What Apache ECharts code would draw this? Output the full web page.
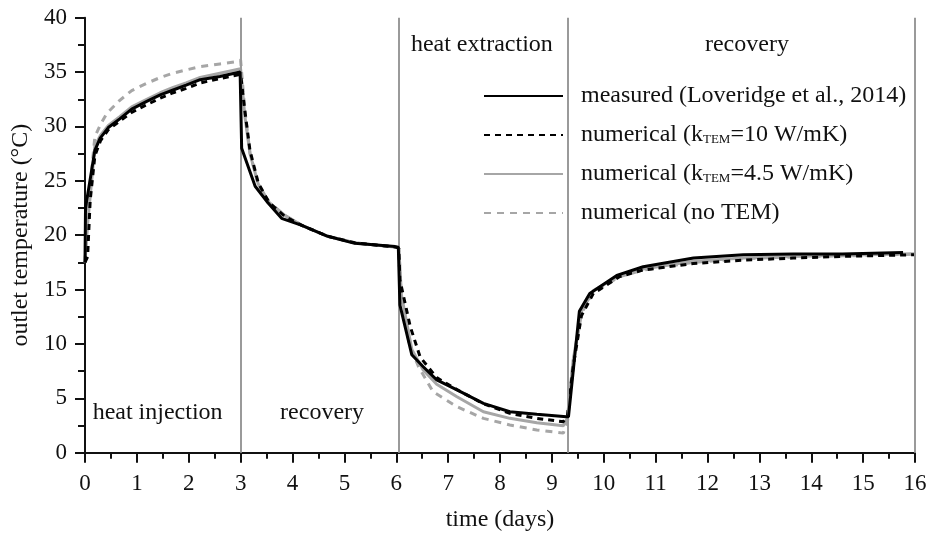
<!DOCTYPE html>
<html>
<head>
<meta charset="utf-8">
<script src="https://cdn.jsdelivr.net/npm/echarts@6/dist/echarts.min.js"></script>
<style>
  html, body { margin: 0; padding: 0; background: #fff; }
  #chart { width: 930px; height: 534px; }
</style>
</head>
<body>
<div id="chart"></div>
<script>
// Outlet temperature of the energy pile during the thermal response test
const FONT = 'Liberation Serif';

// measured (Loveridge et al., 2014)
const measuredTime = [0, 0.01, 0.19, 0.29, 0.45, 0.67, 0.9, 1.19, 1.45, 1.7, 1.95, 2.22, 2.6, 2.99,
  3.02, 3.28, 3.53, 3.79, 4.18, 4.68, 5.2, 5.98, 6.04, 6.07, 6.3, 6.52, 6.78, 7.17, 7.68, 8.19, 8.71,
  9.28, 9.32, 9.53, 9.73, 10.25, 10.76, 11.73, 12.69, 13.65, 14.6, 15.77];
const measuredTemp = [17.5, 22.5, 27.8, 28.9, 29.9, 30.7, 31.6, 32.3, 32.9, 33.35, 33.8, 34.3, 34.6, 35.0,
  28.0, 24.5, 22.95, 21.55, 20.9, 19.9, 19.25, 18.95, 18.9, 13.6, 9.0, 7.9, 6.7, 5.77, 4.54, 3.77, 3.53,
  3.31, 3.3, 13.0, 14.65, 16.3, 17.1, 17.9, 18.2, 18.27, 18.27, 18.4];

// numerical, k_TEM = 10 W/mK
const k10Time = [0, 0.05, 0.1, 0.19, 0.3, 0.45, 0.67, 0.9, 1.19, 1.45, 1.7, 1.95, 2.22, 2.6, 3.0,
  3.08, 3.18, 3.34, 3.55, 3.86, 4.18, 4.68, 5.2, 6.0, 6.05, 6.07, 6.27, 6.46, 6.78, 7.17, 7.68, 8.19,
  8.71, 9.22, 9.3, 9.41, 9.57, 9.8, 10.31, 10.76, 11.73, 12.69, 13.65, 14.6, 16];
const k10Temp = [17.5, 18.0, 23.2, 27.3, 28.7, 29.7, 30.5, 31.3, 32.0, 32.6, 33.1, 33.5, 34.0, 34.4, 34.8,
  31.5, 27.8, 24.8, 23.0, 21.7, 20.9, 19.9, 19.3, 18.9, 18.8, 15.9, 11.6, 8.8, 6.9, 5.8, 4.5, 3.62,
  3.16, 2.85, 3.4, 7.9, 12.6, 14.65, 16.2, 16.8, 17.4, 17.7, 17.9, 18.05, 18.2];

// numerical, k_TEM = 4.5 W/mK
const k45Time = [0, 0.05, 0.19, 0.3, 0.45, 0.67, 0.9, 1.19, 1.45, 1.7, 1.95, 2.22, 2.6, 3.0,
  3.08, 3.18, 3.34, 3.55, 3.86, 4.18, 4.68, 5.2, 6.0, 6.05, 6.1, 6.3, 6.52, 6.78, 7.17, 7.68, 8.19,
  8.71, 9.22, 9.3, 9.41, 9.57, 9.8, 10.31, 10.76, 11.73, 12.69, 13.65, 14.6, 16];
const k45Temp = [17.5, 21.0, 28.2, 29.2, 30.1, 30.9, 31.8, 32.5, 33.1, 33.6, 34.0, 34.5, 34.9, 35.3,
  31.0, 27.5, 24.7, 23.0, 21.8, 20.9, 19.9, 19.3, 18.9, 18.8, 14.5, 9.5, 7.6, 6.3, 5.15, 3.77, 3.16,
  2.76, 2.47, 3.2, 8.5, 13.0, 14.9, 16.3, 16.9, 17.6, 17.9, 18.05, 18.15, 18.3];

// numerical, no TEM
const noTemTime = [0, 0.05, 0.19, 0.3, 0.42, 0.67, 0.9, 1.19, 1.45, 1.7, 1.95, 2.22, 2.6, 2.92, 3.0,
  3.08, 3.18, 3.34, 3.55, 3.86, 4.18, 4.68, 5.2, 6.0, 6.05, 6.1, 6.25, 6.43, 6.71, 7.17, 7.68, 8.19,
  8.71, 9.22, 9.3, 9.41, 9.57, 9.8, 10.31, 10.76, 11.73, 12.69, 13.65, 14.6, 16];
const noTemTemp = [17.5, 22.0, 29.05, 30.2, 31.2, 32.4, 33.3, 33.97, 34.5, 34.9, 35.2, 35.5, 35.75, 35.95, 36.1,
  31.5, 27.6, 24.6, 23.0, 21.8, 20.9, 19.9, 19.3, 18.9, 18.8, 14.0, 10.0, 7.9, 5.6, 4.23, 3.16, 2.55,
  2.09, 1.8, 2.8, 8.3, 12.8, 14.8, 16.2, 16.8, 17.5, 17.85, 18.0, 18.1, 18.25];

// phase boundaries (days) and phase names
const phaseBounds = [3, 6.05, 9.3, 16];
const phaseNames = ['heat injection', 'recovery', 'heat extraction', 'recovery'];
const phaseLabelPos = [[1.4, 3.65], [4.57, 3.65], [7.65, 37.5], [12.76, 37.5]];

const seriesNames = [
  'measured (Loveridge et al., 2014)',
  'numerical (kTEM=10 W/mK)',
  'numerical (kTEM=4.5 W/mK)',
  'numerical (no TEM)'
];

const zip = (a, b) => a.map((v, i) => [v, b[i]]);

const chart = echarts.init(document.getElementById('chart'), null, { renderer: 'canvas' });

// legend text with "TEM" set as a subscript of k
const legendFormatter = (name) => {
  if (name.indexOf('kTEM') >= 0) {
    const parts = name.split('kTEM');
    return '{sp|}{t|' + parts[0] + 'k}{sub|TEM}{t|' + parts[1] + '}';
  }
  return '{sp|}{t|' + name + '}';
};

chart.setOption({
  animation: false,
  backgroundColor: '#ffffff',
  textStyle: { fontFamily: FONT },
  grid: { left: 85, right: 15, top: 17.7, bottom: 81.3, containLabel: false, outerBoundsMode: 'none' },
  legend: {
    orient: 'vertical',
    left: 478,
    top: 79,
    itemWidth: 79,
    itemHeight: 14,
    itemGap: 15,
    itemStyle: { opacity: 0 },
    data: [seriesNames[0], seriesNames[1], seriesNames[2], seriesNames[3]],
    formatter: legendFormatter,
    textStyle: {
      fontFamily: FONT,
      color: '#111',
      rich: {
        sp: { width: 13 },
        t: { fontFamily: FONT, fontSize: 24, color: '#111' },
        sub: { fontFamily: FONT, fontSize: 13, color: '#111', padding: [10, 0, 0, 0] }
      }
    }
  },
  xAxis: {
    type: 'value',
    min: 0, max: 16, interval: 1,
    name: 'time (days)',
    nameLocation: 'middle',
    nameGap: 55,
    nameTextStyle: { fontFamily: FONT, fontSize: 24, color: '#111' },
    axisLine: { show: true, onZero: false, lineStyle: { color: '#111', width: 2 } },
    axisTick: { show: true, inside: false, length: 10, lineStyle: { color: '#111', width: 2 } },
    minorTick: { show: true, splitNumber: 2, length: 6, lineStyle: { color: '#111', width: 2 } },
    axisLabel: { fontFamily: FONT, fontSize: 23, color: '#111', margin: 20 },
    splitLine: { show: false }
  },
  yAxis: {
    type: 'value',
    min: 0, max: 40, interval: 5,
    name: 'outlet temperature (°C)',
    nameLocation: 'middle',
    nameGap: 52,
    nameTextStyle: { fontFamily: FONT, fontSize: 24, color: '#111' },
    axisLine: { show: true, onZero: false, lineStyle: { color: '#111', width: 2 } },
    axisTick: { show: true, inside: false, length: 10, lineStyle: { color: '#111', width: 2 } },
    minorTick: { show: true, splitNumber: 2, length: 7, lineStyle: { color: '#111', width: 2 } },
    axisLabel: { fontFamily: FONT, fontSize: 23, color: '#111', margin: 18 },
    splitLine: { show: false }
  },
  series: [
    {
      // phase boundaries and names
      type: 'line',
      name: 'phases',
      data: [],
      silent: true,
      z: 1,
      markLine: {
        silent: true,
        symbol: 'none',
        animation: false,
        label: { show: false },
        lineStyle: { color: '#9a9a9a', width: 2, type: 'solid' },
        data: phaseBounds.map(v => ({ xAxis: v }))
      },
      markPoint: {
        silent: true,
        symbol: 'circle',
        symbolSize: 0,
        label: {
          show: true,
          position: 'inside',
          fontFamily: FONT,
          fontSize: 24,
          color: '#111',
          formatter: (p) => p.name
        },
        data: phaseNames.map((n, i) => ({ name: n, coord: phaseLabelPos[i] }))
      }
    },
    {
      name: seriesNames[3],
      type: 'line',
      data: zip(noTemTime, noTemTemp),
      showSymbol: false,
      symbol: 'none',
      z: 2,
      lineStyle: { color: '#a6a6a6', width: 3, type: [7, 6] },
      itemStyle: { color: '#a6a6a6' }
    },
    {
      name: seriesNames[2],
      type: 'line',
      data: zip(k45Time, k45Temp),
      showSymbol: false,
      symbol: 'none',
      z: 3,
      lineStyle: { color: '#a6a6a6', width: 3, type: 'solid' },
      itemStyle: { color: '#a6a6a6' }
    },
    {
      name: seriesNames[1],
      type: 'line',
      data: zip(k10Time, k10Temp),
      showSymbol: false,
      symbol: 'none',
      z: 4,
      lineStyle: { color: '#000', width: 3, type: [6, 5] },
      itemStyle: { color: '#000' }
    },
    {
      name: seriesNames[0],
      type: 'line',
      data: zip(measuredTime, measuredTemp),
      showSymbol: false,
      symbol: 'none',
      z: 5,
      lineStyle: { color: '#000', width: 3, type: 'solid' },
      itemStyle: { color: '#000' }
    }
  ]
});
</script>
</body>
</html>
